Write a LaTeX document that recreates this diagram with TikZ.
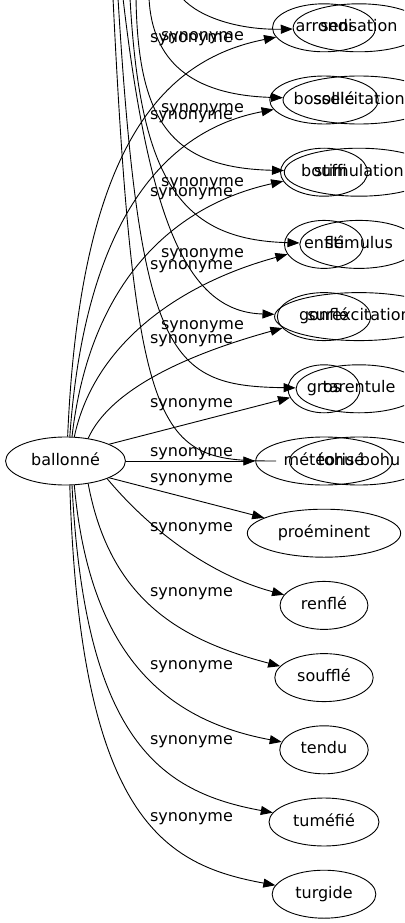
\documentclass[tikz,border=0pt]{standalone}
\usepackage{fontspec}
\setmainfont{DejaVu Sans}
\usetikzlibrary{arrows.meta,shapes.geometric}
\begin{document}
\begin{tikzpicture}[x=1pt,y=-1pt,
  every node/.style={font=\fontsize{16}{19}\selectfont},
  word/.style={draw, ellipse, line width=0.9pt, inner xsep=8pt, inner ysep=4pt, text height=11.6pt, text depth=3.4pt, minimum height=48pt, minimum width=72pt},
  lbl/.style={anchor=base, inner sep=0pt},
  edge/.style={draw, line width=0.9pt, -{Triangle[length=12pt,width=9pt]}},
  plain/.style={draw, line width=0.9pt}]
\useasboundingbox (0,0) rectangle (404,923);
\clip (0,0) rectangle (404,923);
% graph 1
\node[word] (ballonne) at (65.5,461) {ballonné};
\node[word] (arrondi) at (324,27.8) {arrondi};
\node[word] (bossele) at (324,100) {bosselé};
\node[word] (bouffi) at (324,172.2) {bouffi};
\node[word] (enfle) at (324,244.4) {enflé};
\node[word] (gonfle) at (324,316.6) {gonflé};
\node[word] (gros) at (324,388.8) {gros};
\node[word] (meteorise) at (324,461) {météorisé};
\node[word] (proeminent) at (324,533.2) {proéminent};
\node[word] (renfle) at (324,605.4) {renflé};
\node[word] (souffle) at (324,677.6) {soufflé};
\node[word] (tendu) at (324,749.8) {tendu};
\node[word] (tumefie) at (324,822) {tuméfié};
\node[word] (turgide) at (324,894.2) {turgide};
% graph 2
\node[word] (sensation) at (359,27.8) {sensation};
\node[word] (sollicitation) at (359,100) {sollicitation};
\node[word] (stimulation) at (359,172.2) {stimulation};
\node[word] (stimulus) at (359,244.4) {stimulus};
\node[word] (surexcitation) at (359,316.6) {surexcitation};
\node[word] (tarentule) at (359,388.8) {tarentule};
\node[word] (tohubohu) at (359,461) {tohu-bohu};
% graph 1 edges
\draw[edge] (ballonne.85) .. controls (80,150) and (160,60) .. (arrondi);
\draw[edge] (ballonne.80) .. controls (85,220) and (165,130) .. (bossele);
\draw[edge] (ballonne.75) .. controls (90,280) and (175,205) .. (bouffi);
\draw[edge] (ballonne.70) .. controls (95,340) and (185,282) .. (enfle);
\draw[edge] (ballonne.45) .. controls (110,390) and (185,355) .. (gonfle);
\draw[edge] (ballonne.21) -- (gros);
\draw[edge] (ballonne) -- (meteorise);
\draw[edge] (ballonne.-21) -- (proeminent);
\draw[edge] (ballonne.-23) .. controls (150,530) and (210,575) .. (renfle);
\draw[edge] (ballonne.-45) .. controls (110,600) and (180,640) .. (souffle);
\draw[edge] (ballonne.-70) .. controls (90,660) and (170,721) .. (tendu);
\draw[edge] (ballonne.-75) .. controls (85,740) and (160,792) .. (tumefie);
\draw[edge] (ballonne.-80) .. controls (80,820) and (165,865) .. (turgide);
% graph 2 edges (source above the picture)
\coordinate (s1) at (182,-2);
\coordinate (s2) at (149,-2);
\coordinate (s3) at (136,-2);
\coordinate (s4) at (130,-2);
\coordinate (s5) at (123,-2);
\coordinate (s6) at (118,-2);
\coordinate (s7) at (113,-2);
\draw[edge] (s1) .. controls (200,18) and (240,30) .. (sensation);
\draw[edge] (s2) .. controls (152,60) and (190,95) .. (sollicitation);
\draw[edge] (s3) .. controls (138,120) and (170,168) .. (stimulation);
\draw[edge] (s4) .. controls (140,180) and (180,240) .. (stimulus);
\draw[edge] (s5) .. controls (150,230) and (190,312) .. (surexcitation);
\draw[edge] (s6) .. controls (140,360) and (170,386) .. (tarentule);
\draw[plain, shorten >=13pt] (s7) .. controls (135,450) and (160,461) .. (tohubohu);
% labels graph 1
\node[lbl] (la1) at (191.5,42.5) {synonyme};
\node[lbl] (la2) at (191.5,119.5) {synonyme};
\node[lbl] (la3) at (191.5,196.5) {synonyme};
\node[lbl] (la4) at (191.5,269.5) {synonyme};
\node[lbl] (la5) at (191.5,343.5) {synonyme};
\node[lbl] (la6) at (191.5,407.5) {synonyme};
\node[lbl] (la7) at (191.5,456.5) {synonyme};
\node[lbl] (la8) at (191.5,482.5) {synonyme};
\node[lbl] (la9) at (191.5,531.5) {synonyme};
\node[lbl] (la10) at (191.5,596.5) {synonyme};
\node[lbl] (la11) at (191.5,669.5) {synonyme};
\node[lbl] (la12) at (191.5,744.5) {synonyme};
\node[lbl] (la13) at (191.5,821.5) {synonyme};
% labels graph 2
\node[lbl] (lb1) at (202.5,40.5) {synonyme};
\node[lbl] (lb2) at (202.5,112.5) {synonyme};
\node[lbl] (lb3) at (202.5,186.5) {synonyme};
\node[lbl] (lb4) at (202.5,257.5) {synonyme};
\node[lbl] (lb5) at (202.5,329.5) {synonyme};
\end{tikzpicture}
\end{document}
